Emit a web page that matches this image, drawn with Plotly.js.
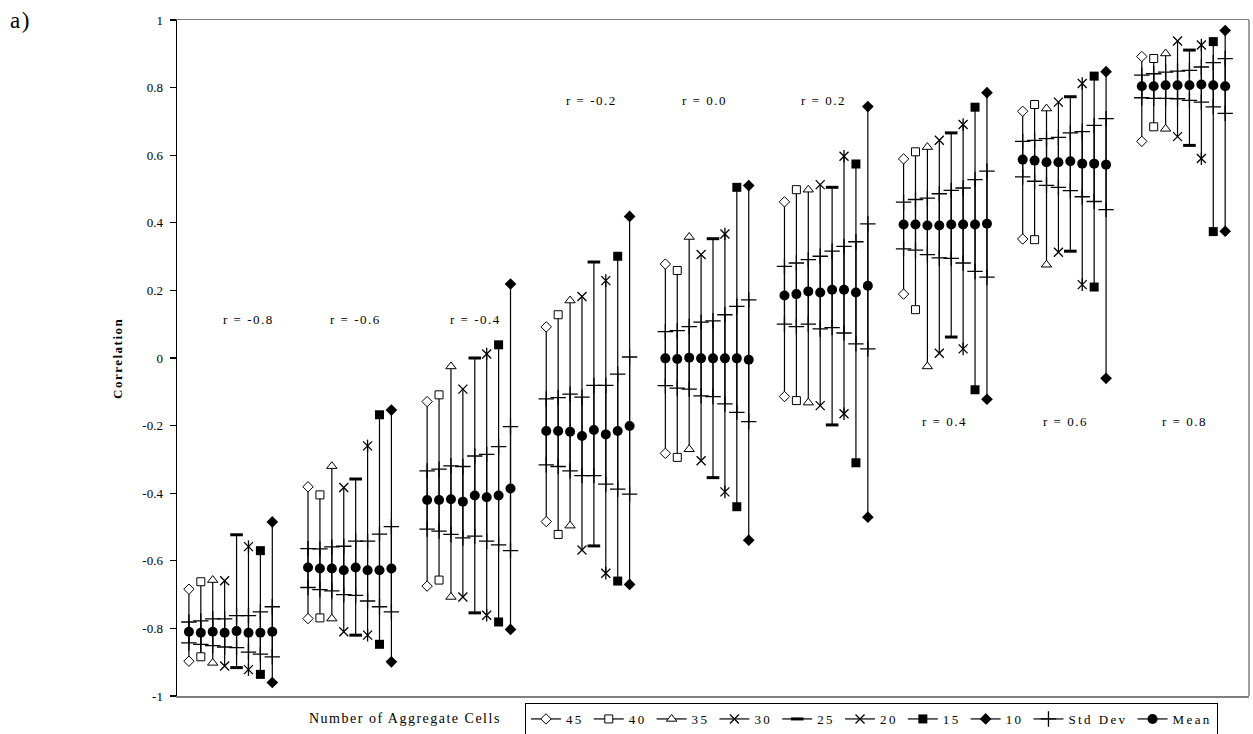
<!DOCTYPE html>
<html>
<head>
<meta charset="utf-8">
<script src="https://cdn.plot.ly/plotly-3.0.1.min.js"></script>
<style>
html, body { margin: 0; padding: 0; background: #ffffff; }
#chart { width: 1253px; height: 734px; }
.legendtext { letter-spacing: 2.4px; }
.annotation-text { letter-spacing: 1.5px; }
</style>
</head>
<body>
<div id="chart"></div>
<script>
// ---------------- DATA ----------------
const cellCounts = ['45', '40', '35', '30', '25', '20', '15', '10'];
const rLabels = ['r = -0.8', 'r = -0.6', 'r = -0.4', 'r = -0.2', 'r = 0.0', 'r = 0.2', 'r = 0.4', 'r = 0.6', 'r = 0.8'];
const yTickVals = [1, 0.8, 0.6, 0.4, 0.2, 0, -0.2, -0.4, -0.6, -0.8, -1];
const yTickText = ['1', '0.8', '0.6', '0.4', '0.2', '0', '-0.2', '-0.4', '-0.6', '-0.8', '-1'];

// rows: cell counts (45..10); columns: r = -0.8 .. 0.8
const maxVals = [
  [-0.684, -0.381, -0.129, 0.092, 0.278, 0.462, 0.589, 0.730, 0.892],
  [-0.662, -0.405, -0.109, 0.128, 0.259, 0.498, 0.610, 0.750, 0.886],
  [-0.657, -0.320, -0.025, 0.170, 0.358, 0.498, 0.624, 0.738, 0.901],
  [-0.659, -0.383, -0.092, 0.182, 0.306, 0.513, 0.644, 0.757, 0.938],
  [-0.523, -0.358, 0.000, 0.284, 0.353, 0.505, 0.666, 0.773, 0.911],
  [-0.558, -0.260, 0.012, 0.229, 0.367, 0.597, 0.691, 0.812, 0.926],
  [-0.570, -0.168, 0.039, 0.301, 0.505, 0.574, 0.742, 0.834, 0.936],
  [-0.485, -0.154, 0.219, 0.419, 0.510, 0.744, 0.785, 0.847, 0.969]
];
const minVals = [
  [-0.897, -0.771, -0.675, -0.484, -0.282, -0.114, 0.189, 0.352, 0.641],
  [-0.884, -0.769, -0.657, -0.522, -0.294, -0.126, 0.143, 0.350, 0.684],
  [-0.902, -0.771, -0.707, -0.496, -0.270, -0.132, -0.025, 0.276, 0.678],
  [-0.911, -0.810, -0.707, -0.568, -0.304, -0.141, 0.014, 0.313, 0.655],
  [-0.916, -0.820, -0.754, -0.556, -0.354, -0.198, 0.062, 0.316, 0.629],
  [-0.922, -0.820, -0.761, -0.637, -0.396, -0.165, 0.027, 0.217, 0.590],
  [-0.936, -0.847, -0.781, -0.660, -0.440, -0.310, -0.094, 0.210, 0.374],
  [-0.960, -0.899, -0.803, -0.670, -0.539, -0.471, -0.122, -0.060, 0.375]
];
const sdUpper = [
  [-0.781, -0.564, -0.334, -0.121, 0.078, 0.271, 0.461, 0.641, 0.837],
  [-0.778, -0.565, -0.329, -0.117, 0.081, 0.281, 0.469, 0.644, 0.841],
  [-0.772, -0.559, -0.319, -0.107, 0.093, 0.291, 0.473, 0.649, 0.846],
  [-0.772, -0.557, -0.321, -0.116, 0.106, 0.301, 0.486, 0.653, 0.849],
  [-0.762, -0.542, -0.290, -0.081, 0.110, 0.316, 0.496, 0.666, 0.851],
  [-0.762, -0.542, -0.285, -0.081, 0.128, 0.330, 0.503, 0.670, 0.861],
  [-0.751, -0.521, -0.262, -0.048, 0.153, 0.344, 0.528, 0.688, 0.874],
  [-0.736, -0.499, -0.203, 0.003, 0.172, 0.397, 0.553, 0.708, 0.886]
];
const sdLower = [
  [-0.843, -0.679, -0.506, -0.316, -0.082, 0.100, 0.323, 0.536, 0.770],
  [-0.847, -0.685, -0.512, -0.321, -0.089, 0.093, 0.319, 0.523, 0.768],
  [-0.851, -0.689, -0.522, -0.334, -0.092, 0.100, 0.306, 0.511, 0.768],
  [-0.855, -0.700, -0.532, -0.348, -0.112, 0.086, 0.296, 0.505, 0.767],
  [-0.857, -0.702, -0.527, -0.348, -0.114, 0.090, 0.295, 0.495, 0.762],
  [-0.870, -0.719, -0.542, -0.373, -0.136, 0.074, 0.281, 0.477, 0.757],
  [-0.876, -0.736, -0.553, -0.388, -0.161, 0.042, 0.256, 0.463, 0.743],
  [-0.884, -0.751, -0.570, -0.403, -0.188, 0.027, 0.239, 0.439, 0.724]
];
const meanVals = [
  [-0.810, -0.620, -0.420, -0.216, -0.001, 0.185, 0.395, 0.587, 0.804],
  [-0.813, -0.623, -0.420, -0.216, -0.003, 0.189, 0.395, 0.584, 0.804],
  [-0.810, -0.623, -0.418, -0.218, 0.001, 0.197, 0.392, 0.579, 0.807],
  [-0.813, -0.628, -0.425, -0.231, -0.001, 0.194, 0.392, 0.579, 0.807],
  [-0.808, -0.620, -0.407, -0.213, -0.001, 0.202, 0.395, 0.582, 0.807],
  [-0.813, -0.628, -0.412, -0.226, -0.001, 0.202, 0.395, 0.575, 0.809],
  [-0.813, -0.628, -0.407, -0.216, -0.001, 0.194, 0.395, 0.575, 0.807],
  [-0.810, -0.623, -0.386, -0.201, -0.005, 0.214, 0.397, 0.572, 0.804]
];

// ---------------- STYLE / LAYOUT ----------------
const FONT = '"Liberation Serif", "Times New Roman", Times, serif';
const LW = 1.2;
const markerStyles = [
  {symbol: 'diamond', size: 8, color: 'white', line: {color: 'black', width: 1}},
  {symbol: 'square', size: 8, color: 'white', line: {color: 'black', width: 1}},
  {symbol: 'triangle-up', size: 9, color: 'white', line: {color: 'black', width: 1}},
  {symbol: 'x-thin', size: 9, color: 'black', line: {color: 'black', width: 1.3}},
  {symbol: 'line-ew', size: 9, color: 'black', line: {color: 'black', width: 3}},
  {symbol: 'x-thin', size: 9, color: 'black', line: {color: 'black', width: 1.3}},
  {symbol: 'square', size: 9, color: 'black', line: {color: 'black', width: 0}},
  {symbol: 'diamond', size: 9, color: 'black', line: {color: 'black', width: 0}}
];
// horizontal placement of the "r = ..." captions (axis units) and their rows
const rLabelX = [6.0, 15.0, 25.1, 34.8, 44.3, 54.3, 64.4, 74.6, 84.6];
const labelRowY = g => (g < 3 ? 0.113 : (g < 6 ? 0.762 : -0.189));

const nGroups = rLabels.length;
const xPos = (g, s) => 10 * g + s + 1;

const traces = [];
cellCounts.forEach((c, s) => {
  const xs = [], ys = [];
  for (let g = 0; g < nGroups; g++) {
    const x = xPos(g, s);
    xs.push(x, x, null);
    ys.push(minVals[s][g], maxVals[s][g], null);
  }
  traces.push({
    type: 'scatter', mode: 'lines+markers', name: c,
    x: xs, y: ys, connectgaps: false, cliponaxis: false,
    line: {color: 'black', width: LW},
    marker: markerStyles[s], hoverinfo: 'skip'
  });
  if (c === '20') {
    // vertical stroke of the star marker
    traces.push({
      type: 'scatter', mode: 'markers', showlegend: false,
      x: xs, y: ys, cliponaxis: false,
      marker: {symbol: 'line-ns', size: 9, line: {color: 'black', width: 1.3}},
      hoverinfo: 'skip'
    });
  }
});

// Std Dev ticks
(function () {
  const xs = [], ys = [];
  cellCounts.forEach((c, s) => {
    for (let g = 0; g < nGroups; g++) {
      const x = xPos(g, s);
      xs.push(x, x, null);
      ys.push(sdLower[s][g], sdUpper[s][g], null);
    }
  });
  traces.push({
    type: 'scatter', mode: 'lines+markers', name: 'Std Dev',
    x: xs, y: ys, connectgaps: false,
    line: {color: 'black', width: LW},
    marker: {symbol: 'cross-thin', size: 11, line: {color: 'black', width: 1.3}},
    hoverinfo: 'skip'
  });
})();

// Means
(function () {
  const xs = [], ys = [];
  cellCounts.forEach((c, s) => {
    for (let g = 0; g < nGroups; g++) {
      xs.push(xPos(g, s), null);
      ys.push(meanVals[s][g], null);
    }
  });
  traces.push({
    type: 'scatter', mode: 'lines+markers', name: 'Mean',
    x: xs, y: ys, connectgaps: false,
    line: {color: 'black', width: LW},
    marker: {symbol: 'circle', size: 10, color: 'black'},
    hoverinfo: 'skip'
  });
})();

const annotations = rLabels.map((t, g) => ({
  text: t, x: rLabelX[g], y: labelRowY(g), xref: 'x', yref: 'y',
  showarrow: false, xanchor: 'center', yanchor: 'middle',
  font: {family: FONT, size: 13, color: 'black'}
}));
annotations.push({
  text: 'a)', xref: 'paper', yref: 'paper', x: -0.158, y: 1.02,
  xanchor: 'left', yanchor: 'top', showarrow: false,
  font: {family: FONT, size: 23, color: 'black'}
});
annotations.push({
  text: '<b>Correlation</b>', xref: 'paper', yref: 'paper', x: -0.056, y: 0.5,
  xanchor: 'center', yanchor: 'middle', textangle: -90, showarrow: false,
  font: {family: FONT, size: 13, color: 'black'}
});
annotations.push({
  text: 'Number of Aggregate Cells', xref: 'paper', yref: 'paper', x: 0.2127, y: -0.034,
  xanchor: 'center', yanchor: 'middle', showarrow: false,
  font: {family: FONT, size: 14, color: 'black'}
});

const layout = {
  width: 1253, height: 734,
  margin: {l: 177, r: 4, t: 20, b: 38, pad: 0, autoexpand: false},
  paper_bgcolor: 'white', plot_bgcolor: 'white',
  font: {family: FONT, size: 13, color: 'black'},
  showlegend: true,
  xaxis: {
    range: [0, 90], showticklabels: false, ticks: '', showgrid: false, zeroline: false,
    showline: true, linecolor: '#7f7f7f', linewidth: 1.5, mirror: true, fixedrange: true
  },
  yaxis: {
    range: [-1, 1], tickmode: 'array', tickvals: yTickVals, ticktext: yTickText,
    ticks: 'outside', ticklen: 6, tickwidth: 1.3, tickcolor: 'black',
    showgrid: false, zeroline: false, showline: true, linecolor: 'black', linewidth: 1.5,
    tickfont: {family: FONT, size: 13, color: 'black'}, ticklabelstandoff: 4, fixedrange: true
  },
  shapes: [{
    type: 'line', xref: 'paper', yref: 'paper', x0: 1, x1: 1, y0: 0, y1: 1,
    line: {color: '#7f7f7f', width: 1.5}, layer: 'below'
  }],
  legend: {
    orientation: 'h', x: 0.3246, xanchor: 'left', y: -0.034, yanchor: 'middle',
    bordercolor: 'black', borderwidth: 1, bgcolor: 'white',
    font: {family: FONT, size: 13, color: 'black'}, itemwidth: 30, tracegroupgap: 0
  },
  annotations: annotations
};

Plotly.newPlot('chart', traces, layout, {staticPlot: true, displayModeBar: false});
</script>
</body>
</html>
